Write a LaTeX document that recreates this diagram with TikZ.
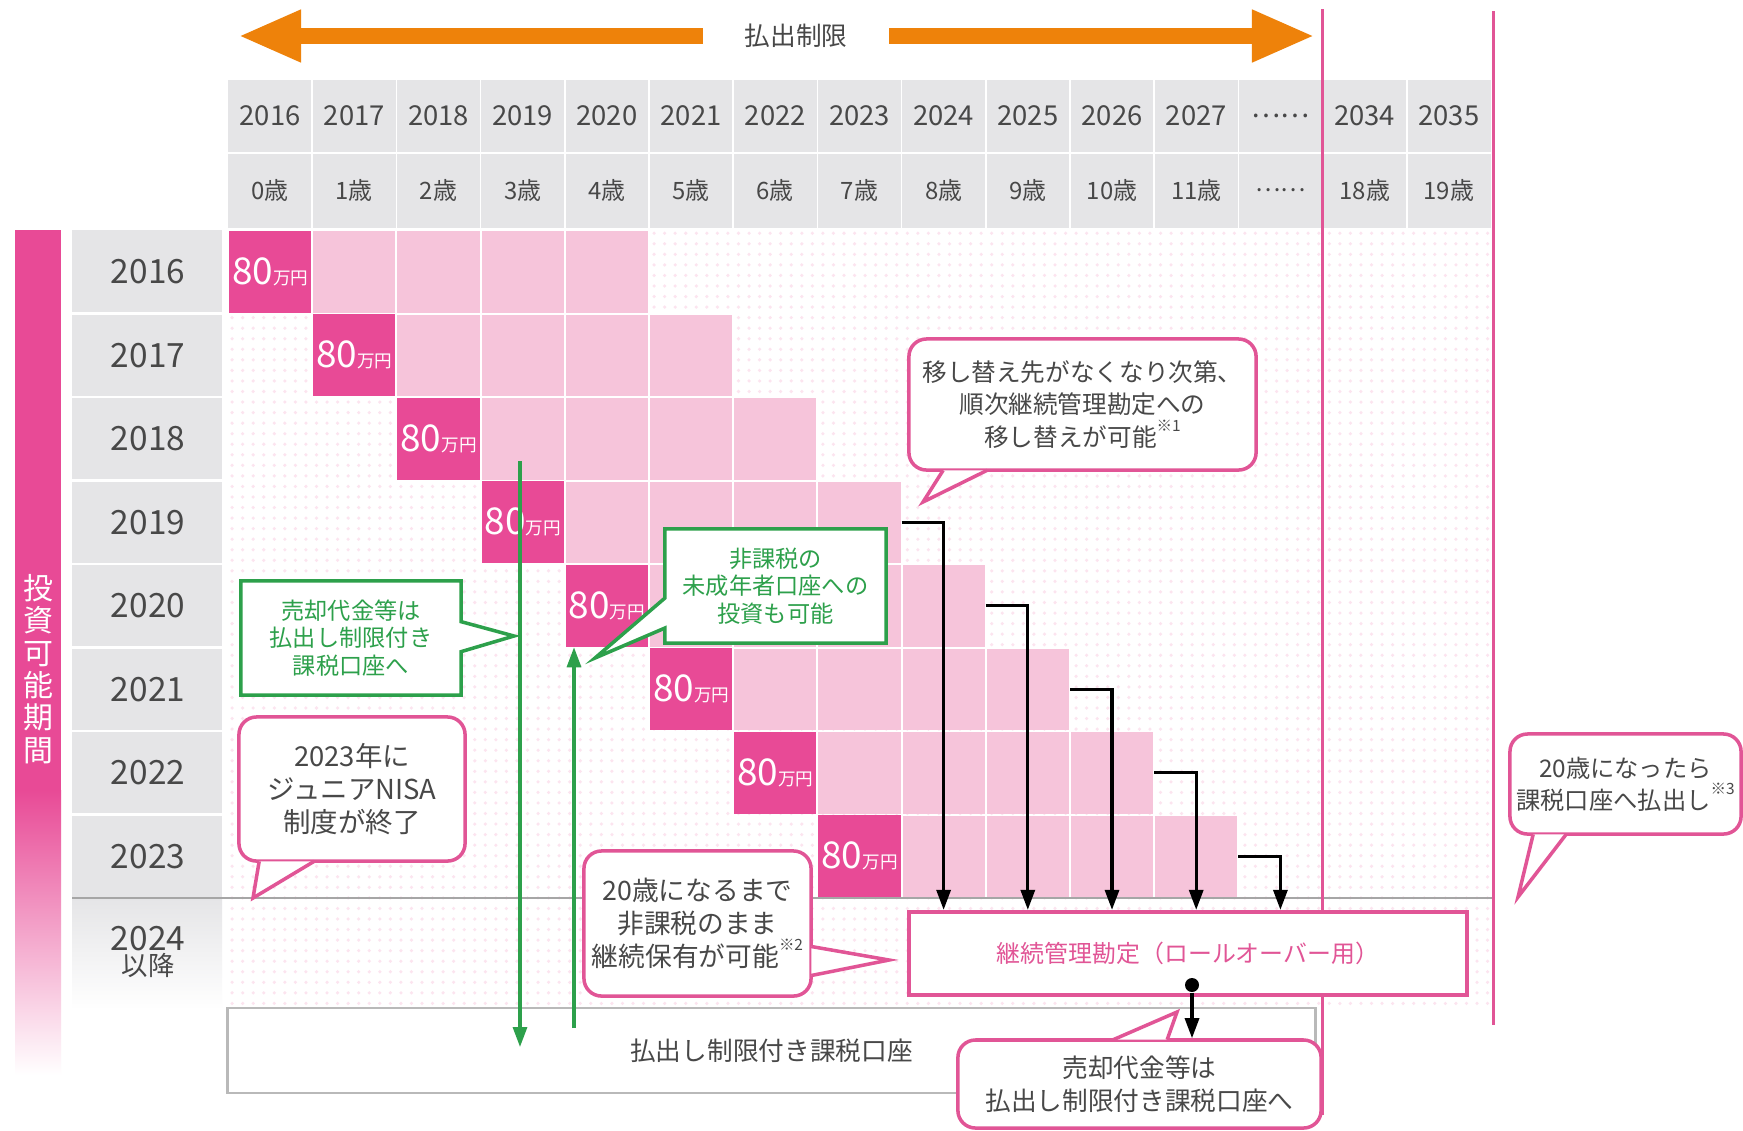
\documentclass[tikz,border=0pt]{standalone}
\usepackage{fontspec}
\setmainfont{Noto Sans CJK JP}
\usetikzlibrary{arrows.meta,calc,patterns,shapes.callouts}
\definecolor{nisaMagenta}{RGB}{232,74,150}
\definecolor{nisaPink}{RGB}{246,196,218}
\definecolor{nisaRose}{RGB}{225,85,150}
\definecolor{nisaGreen}{RGB}{45,160,75}
\definecolor{nisaOrange}{RGB}{238,130,10}
\definecolor{nisaGray}{RGB}{229,229,231}
\definecolor{nisaInk}{RGB}{72,72,72}
\newcommand{\fsize}[2]{\fontsize{#1}{#2}\selectfont}
\newcommand{\kome}[1]{\raisebox{1.1ex}{\fsize{4.4}{5}※#1}}
\newcommand{\tail}[3]{%
  \fill[white] (#1) -- (#3) -- (#2) -- cycle;
  \draw[nisaRose,line width=1pt,line join=miter] (#1) -- (#3) -- (#2);}
\tikzset{
    >={Triangle[length=2mm,width=1.4mm]},
    yearhead/.style={text=nisaInk,font=\fsize{7.8}{9}},
    agehead/.style={text=nisaInk,font=\fsize{6.8}{8}},
    rowyear/.style={text=nisaInk,font=\fsize{9.5}{10},align=center},
    amount/.style={fill=nisaMagenta,text=white,minimum width=8.22mm,minimum height=8.15mm,inner sep=0pt,font=\fsize{10.5}{11}},
    dot/.style={circle,fill=black,minimum size=1.4mm,inner sep=0pt},
    taxbox/.style={draw=gray!55,line width=0.8pt,fill=white,text=nisaInk,minimum width=108.7mm,minimum height=8.5mm,inner sep=0pt,font=\fsize{7.3}{8}},
    rollbox/.style={draw=nisaRose,line width=1.2pt,fill=white,text=nisaRose,minimum width=55.8mm,minimum height=8.3mm,inner sep=0pt,font=\fsize{6.8}{8}},
    pinkbox/.style={draw=nisaRose,line width=1pt,fill=white,rounded corners=5pt,text=nisaInk,align=center,inner sep=0pt,font=\fsize{7}{9.2}},
    greenbox/.style={rectangle callout,draw=nisaGreen,line width=1pt,fill=white,text=nisaGreen,align=center,inner sep=0pt,callout pointer width=3mm,font=\fsize{6.6}{7.9}},
    rollarrow/.style={->,line width=0.9pt},
    greenarrow/.style={->,nisaGreen,line width=0.9pt},
    payout/.style={-{Triangle[length=6.3mm,width=4.8mm]},nisaOrange,line width=1.6mm},
    guide/.style={nisaRose,line width=0.85pt}
}

\begin{document}
\begin{tikzpicture}[x=0.01cm,y=-0.01cm]
  \useasboundingbox[fill=white] (0,0) rectangle (1743,1130);

  \fill[pattern=dots,pattern color=nisaMagenta!15] (228,228) rectangle (1491,1010);
  \fill[nisaGray] (228,80) rectangle (1491,228);
  \foreach \c in {1,...,14}
    \draw[white,line width=0.5pt] ({228+\c*84.2},80) -- ({228+\c*84.2},228);
  \draw[white,line width=0.5pt] (228,153) -- (1491,153);
  \foreach \yr [count=\i from 0] in {2016,2017,2018,2019,2020,2021,2022,2023,2024,2025,2026,2027,……,2034,2035}
    \node[yearhead] (yr\i) at ({228+(\i+0.5)*84.2},116) {\yr};
  \foreach \ag [count=\i from 0] in {0歳,1歳,2歳,3歳,4歳,5歳,6歳,7歳,8歳,9歳,10歳,11歳,……,18歳,19歳}
    \node[agehead] (ag\i) at ({228+(\i+0.5)*84.2},190) {\ag};

  \fill[nisaGray] (72,230) rectangle (222,898);
  \shade[top color=nisaGray,bottom color=white] (72,898) rectangle (222,1010);
  \foreach \r in {1,...,7}
    \draw[white,line width=0.6pt] (72,{230+\r*83.5}) -- (222,{230+\r*83.5});
  \foreach \yr [count=\i from 0] in {2016,...,2023}
    \node[rowyear] (ry\i) at (148,{230+(\i+0.5)*83.5}) {\yr};
  \node[rowyear] (ry8) at (148,952) {2024\\[-3pt]{\fsize{7.5}{8}以降}};

  \fill[nisaMagenta] (15,230) rectangle (61,790);
  \shade[top color=nisaMagenta,bottom color=white] (15,790) rectangle (61,1075);
  \node[text=white,font=\fsize{8.5}{9.2},align=center,inner sep=0pt] (period) at (38,669) {投\\資\\可\\能\\期\\間};

  \foreach \r in {0,...,7}{
    \foreach \k in {1,...,4}
      \fill[nisaPink] ({228+(\r+\k)*84.2+1},{230+\r*83.5+1}) rectangle ++(82.2,81.5);
    \node[amount] (amt\r) at ({228+(\r+0.5)*84.2},{230+(\r+0.5)*83.5}) {80{\fsize{5}{6}万円}};
    \coordinate (end\r) at ({228+(\r+5)*84.2},{230+(\r+0.5)*83.5});
  }
  \draw[gray!70,line width=0.5pt] (72,898) -- (1493,898);

  \draw[guide] (1322,9) -- (1322,1115);
  \draw[guide] (1493,11) -- (1493,1025);

  \node[text=nisaInk,font=\fsize{7.3}{8},inner xsep=4.1mm] (limit) at (796,36) {払出制限};
  \coordinate (limleft) at (238,36);
  \coordinate (limright) at (1315,36);
  \draw[payout] (limit.west) -- (limleft);
  \draw[payout] (limit.east) -- (limright);

  \node[taxbox] (tax) at (771.5,1050.5) {払出し制限付き課税口座};
  \node[rollbox] (roll) at (1188,953.5) {継続管理勘定（ロールオーバー用）};

  \foreach \r in {3,...,7}{
    \coordinate (turn\r) at ($(end\r)+(42,0)$);
    \draw[rollarrow] (end\r) -- (turn\r) -- (turn\r |- roll.north);
  }

  \node[greenbox,minimum width=22mm,minimum height=11.4mm,callout absolute pointer={(514,636)}] (sellleft) at (351,638) {売却代金等は\\払出し制限付き\\課税口座へ};
  \node[greenbox,minimum width=22.1mm,minimum height=11.4mm,callout absolute pointer={(595,658)}] (minor) at (775.5,586) {非課税の\\未成年者口座への\\投資も可能};

  \node[pinkbox,minimum width=34.7mm,minimum height=13.1mm] (transfer) at (1082.5,404.5) {移し替え先がなくなり次第、\\順次継続管理勘定への\\移し替えが可能\kome{1}};
  \coordinate (transfertip) at (923,502);
  \tail{$(transfer.south west)+(36,-1.5)$}{$(transfer.south west)+(80,-1.5)$}{transfertip}

  \node[pinkbox,minimum width=22.6mm,minimum height=14.4mm,font=\fsize{7.8}{9.3}] (closing) at (352,789) {2023年に\\ジュニアNISA\\制度が終了};
  \coordinate (closingtip) at (253,898);
  \tail{$(closing.south west)+(22,-1.5)$}{$(closing.south west)+(77,-1.5)$}{closingtip}

  \node[pinkbox,minimum width=22.7mm,minimum height=14.5mm,font=\fsize{7.6}{9.4}] (keep) at (697.5,923.5) {20歳になるまで\\非課税のまま\\継続保有が可能\kome{2}};
  \coordinate (keeptip) at (889,960);
  \tail{$(keep.east)+(-1.5,23)$}{$(keep.east)+(-1.5,52)$}{keeptip}

  \node[pinkbox,minimum width=23.1mm,minimum height=10mm,font=\fsize{6.9}{9.2}] (adult) at (1625.5,784) {20歳になったら\\課税口座へ払出し\kome{3}};
  \coordinate (adulttip) at (1518,897);
  \tail{$(adult.south west)+(25,-1.5)$}{$(adult.south west)+(58,-1.5)$}{adulttip}

  \node[pinkbox,minimum width=36.3mm,minimum height=8.8mm,font=\fsize{7.3}{9.4}] (sale) at (1139.5,1084) {売却代金等は\\払出し制限付き課税口座へ};
  \coordinate (saletip) at (1177,1012);
  \tail{$(sale.north west)+(157,1.5)$}{$(sale.north west)+(211,1.5)$}{saletip}

  \node[dot] (sd) at (1192,985) {};
  \draw[rollarrow] (sd) -- (sd |- sale.north);

  \coordinate (selltop) at (520,461);
  \coordinate (buyfoot) at (574,1028);
  \draw[greenarrow] (selltop) -- (selltop |- 0,1047);
  \draw[greenarrow] (buyfoot) -- (buyfoot |- amt4.south);
\end{tikzpicture}
\end{document}
